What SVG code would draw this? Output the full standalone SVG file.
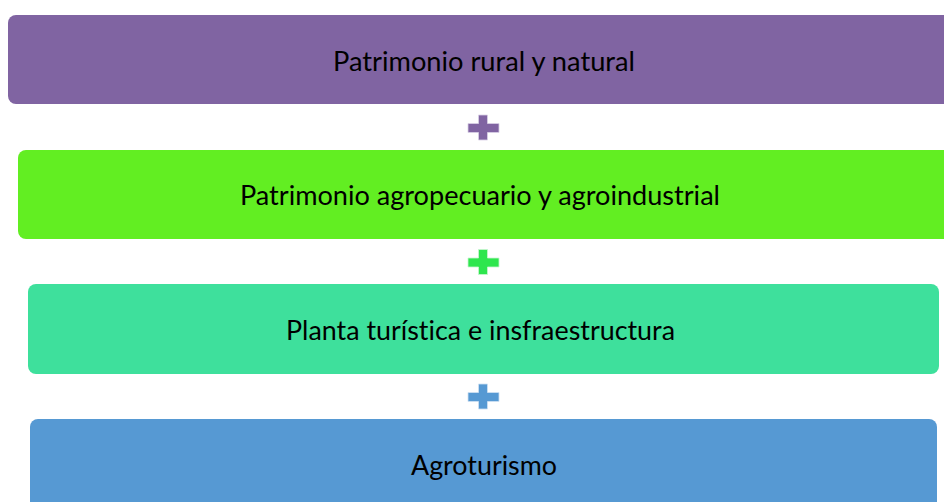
<svg xmlns="http://www.w3.org/2000/svg" width="944" height="502" viewBox="0 0 944 502">
<style>
.lbl{font-family:Lato,"Open Sans","Liberation Sans",sans-serif;font-size:27px;fill:#000;text-anchor:middle;dominant-baseline:central;font-variant-ligatures:none}
</style>
<defs>
<path id="plus" d="M-5 -12.5H4V-4H15.5V5H4V12.5H-5V5H-15.5V-4H-5Z"/>
</defs>
<rect width="944" height="502" fill="#fff"/>
<g id="connectors">
<use href="#plus" x="483.5" y="127.5" fill="#8064A2" stroke="#d9d0e6" stroke-width="0.8"/>
<use href="#plus" x="483.5" y="262" fill="#2EE64E" stroke="#c8f5d0" stroke-width="0.8"/>
<use href="#plus" x="483.5" y="396.5" fill="#5699D3" stroke="#cfe1f3" stroke-width="0.8"/>
</g>
<g id="n1">
<rect x="8" y="15" width="950" height="89" rx="8" fill="#8064A2"/>
<text class="lbl" x="484" y="60" textLength="302" lengthAdjust="spacingAndGlyphs">Patrimonio rural y natural</text>
</g>
<g id="n2">
<rect x="18" y="150" width="935" height="89" rx="8" fill="#62EE22"/>
<text class="lbl" x="480" y="194" textLength="480" lengthAdjust="spacingAndGlyphs">Patrimonio agropecuario y agroindustrial</text>
</g>
<g id="n3">
<rect x="28" y="284" width="911" height="90" rx="8" fill="#3EE09C"/>
<text class="lbl" x="480.5" y="329" textLength="389" lengthAdjust="spacingAndGlyphs">Planta turística e insfraestructura</text>
</g>
<g id="n4">
<rect x="30" y="419" width="907" height="100" rx="8" fill="#5699D3"/>
<text class="lbl" x="484" y="464" textLength="146" lengthAdjust="spacingAndGlyphs">Agroturismo</text>
</g>
</svg>
